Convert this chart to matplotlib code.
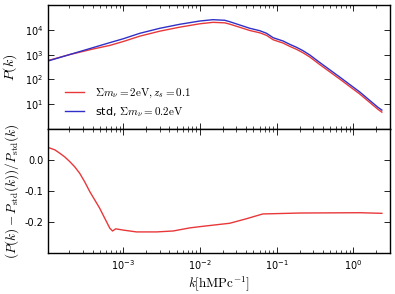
import matplotlib
matplotlib.use("Agg")
import matplotlib.pyplot as plt
import numpy as np

plt.rcParams['mathtext.fontset'] = 'cm'
plt.rcParams['font.size'] = 7

# power spectrum
k_pk = [1.042e-4, 2.018e-4, 3.98e-4, 6.714e-4, 1.0e-3, 1.652e-3, 3.006e-3,
        5.483e-3, 1.0e-2, 1.479e-2, 2.118e-2, 2.460e-2, 3.327e-2, 4.487e-2,
        6.053e-2, 7.413e-2, 9.036e-2, 0.1219, 0.1489, 0.1824, 0.2223,
        0.2723, 0.3631, 0.6683, 1.219, 2.089, 2.360]
pk_std = [550, 1010, 1880, 3040, 4340, 7230, 11500, 16700, 22600, 25600,
          24200, 21200, 15600, 11500, 9200, 7230, 4800, 3530, 2600, 1970,
          1430, 960, 490, 124, 31, 7.6, 5.8]
pk_nu = [572, 1005, 1664, 2350, 3360, 5550, 8810, 12800, 17500, 20000,
         19100, 16900, 12600, 9370, 7580, 5970, 3970, 2920, 2150, 1630,
         1180, 795, 405, 103, 25.7, 6.3, 4.8]

# relative difference
k_rat = [1.042e-4, 1.288e-4, 1.496e-4, 1.738e-4, 2.018e-4, 2.344e-4,
         2.723e-4, 3.170e-4, 3.681e-4, 4.276e-4, 4.966e-4, 5.768e-4,
         6.714e-4, 7.278e-4, 8.035e-4, 1.0e-3, 1.496e-3, 2.723e-3,
         4.487e-3, 7.413e-3, 1.0e-2, 2.460e-2, 3.98e-2, 6.622e-2, 0.2014,
         1.219, 2.360]
ratio = [0.041, 0.033, 0.022, 0.010, -0.005, -0.022, -0.043, -0.071, -0.102,
         -0.129, -0.156, -0.188, -0.220, -0.229, -0.222, -0.226, -0.232,
         -0.232, -0.229, -0.219, -0.215, -0.204, -0.190, -0.174, -0.171,
         -0.170, -0.172]

fig = plt.figure(figsize=(3.95, 2.94), dpi=100)
ax1 = fig.add_axes([0.1215, 0.561, 0.8655, 0.422])
ax2 = fig.add_axes([0.1215, 0.1395, 0.8655, 0.4215], sharex=ax1)

ax1.loglog(k_pk, pk_nu, color='#e8383a', lw=1.0,
           label=r'$\Sigma m_\nu = 2{\rm eV}, z_s = 0.1$')
ax1.loglog(k_pk, pk_std, color='#3030c8', lw=1.0,
           label=r'std, $\Sigma m_\nu = 0.2{\rm eV}$')
ax1.set_ylim(1, 1e5)
ax1.set_yticks([10, 100, 1e3, 1e4])
ax1.yaxis.set_minor_locator(matplotlib.ticker.NullLocator())
ax1.set_ylabel(r'$P(k)$', fontsize=10, labelpad=4)
ax1.legend(loc='lower left', frameon=False, fontsize=8,
           bbox_to_anchor=(0.02, 0.0), handlelength=1.7, handletextpad=1.0)
plt.setp(ax1.get_xticklabels(), visible=False)

ax2.semilogx(k_rat, ratio, color='#e8383a', lw=1.0)
ax2.set_xlim(1.05e-4, 3.0)
ax2.set_ylim(-0.3, 0.1)
ax2.set_yticks([-0.2, -0.1, 0.0])
ax2.set_yticklabels(['-0.2', '-0.1', '0.0'])
ax2.set_xlabel(r'$k[{\rm hMPc}^{-1}]$', fontsize=9.5, labelpad=2)
ax2.set_ylabel(r'$(P(k)-P_{\rm std}(k))/P_{\rm std}(k)$', fontsize=9.5,
               labelpad=2)

for ax in (ax1, ax2):
    ax.tick_params(which='both', direction='in', top=True, right=True,
                   labelsize=7)
    ax.tick_params(which='major', length=4, width=0.6)
    ax.tick_params(which='minor', length=2, width=0.5)
    for s in ax.spines.values():
        s.set_linewidth(1.0)

fig.savefig('out.png', dpi=100)
